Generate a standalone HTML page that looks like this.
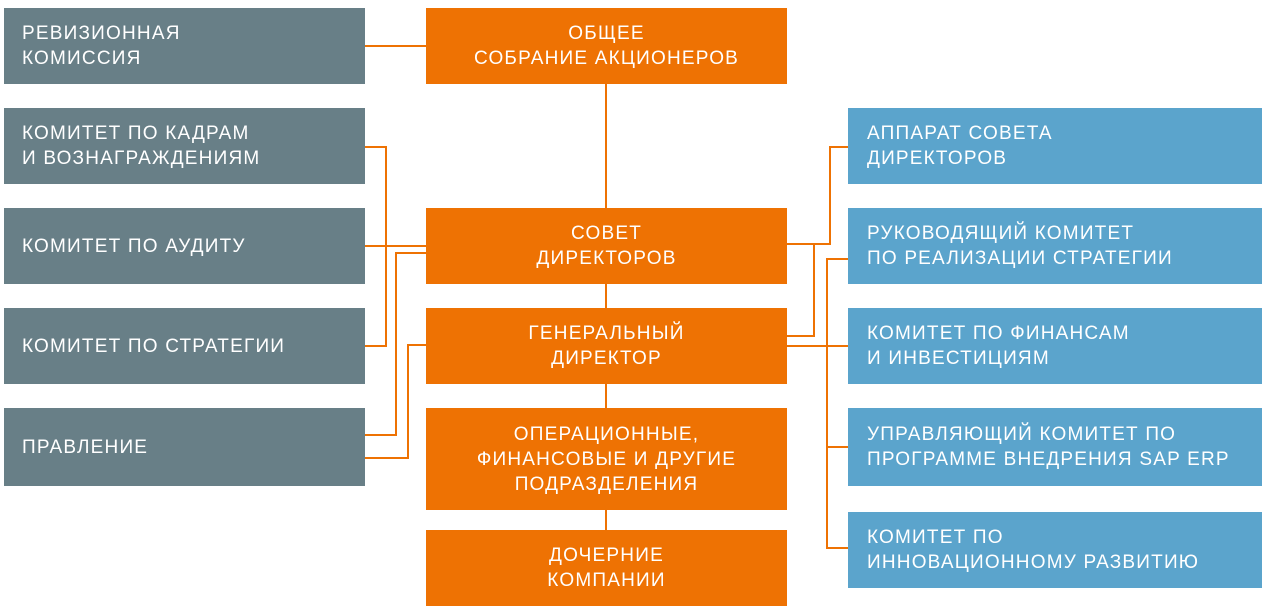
<!DOCTYPE html>
<html><head><meta charset="utf-8"><style>
body{margin:0;width:1266px;height:612px;background:#fff;position:relative;overflow:hidden;font-family:"Liberation Sans",sans-serif;}
.b{position:absolute;color:#fff;font-size:19px;line-height:25px;display:flex;align-items:center;box-sizing:border-box;text-transform:uppercase;letter-spacing:1.2px;white-space:nowrap}
.g{background:#687f87;left:4px;width:361px;padding-left:18px}
.o{background:#ee7203;left:426px;width:361px;justify-content:center;text-align:center}
.u{background:#5ba4cc;left:848px;width:414px;padding-left:19px}
svg{position:absolute;left:0;top:0}
</style></head><body>
<svg width="1266" height="612"><g stroke="#ee7203" stroke-width="2" fill="none">
<path d="M365 46H426"/>
<path d="M606 84V530"/>
<path d="M365 147H386V346H365"/>
<path d="M365 246H426"/>
<path d="M426 253H396V435H365"/>
<path d="M426 345H408V458H365"/>
<path d="M787 244H830V147H848"/>
<path d="M814 244V336H787"/>
<path d="M787 346H848"/>
<path d="M848 259H827V548H848"/>
<path d="M827 447H848"/>
</g></svg>
<div class="b g" style="top:8px;height:76px">Ревизионная<br>комиссия</div>
<div class="b g" style="top:108px;height:76px">Комитет по кадрам<br>и вознаграждениям</div>
<div class="b g" style="top:208px;height:76px">Комитет по аудиту</div>
<div class="b g" style="top:308px;height:76px">Комитет по стратегии</div>
<div class="b g" style="top:408px;height:78px">Правление</div>
<div class="b o" style="top:8px;height:76px">Общее<br>собрание акционеров</div>
<div class="b o" style="top:208px;height:76px">Совет<br>директоров</div>
<div class="b o" style="top:308px;height:76px">Генеральный<br>директор</div>
<div class="b o" style="top:408px;height:102px">Операционные,<br>финансовые и другие<br>подразделения</div>
<div class="b o" style="top:530px;height:76px">Дочерние<br>компании</div>
<div class="b u" style="top:108px;height:76px">Аппарат совета<br>директоров</div>
<div class="b u" style="top:208px;height:76px">Руководящий комитет<br>по реализации стратегии</div>
<div class="b u" style="top:308px;height:76px">Комитет по финансам<br>и инвестициям</div>
<div class="b u" style="top:408px;height:78px">Управляющий комитет по<br>программе внедрения SAP ERP</div>
<div class="b u" style="top:512px;height:76px">Комитет по<br>инновационному развитию</div>
</body></html>
